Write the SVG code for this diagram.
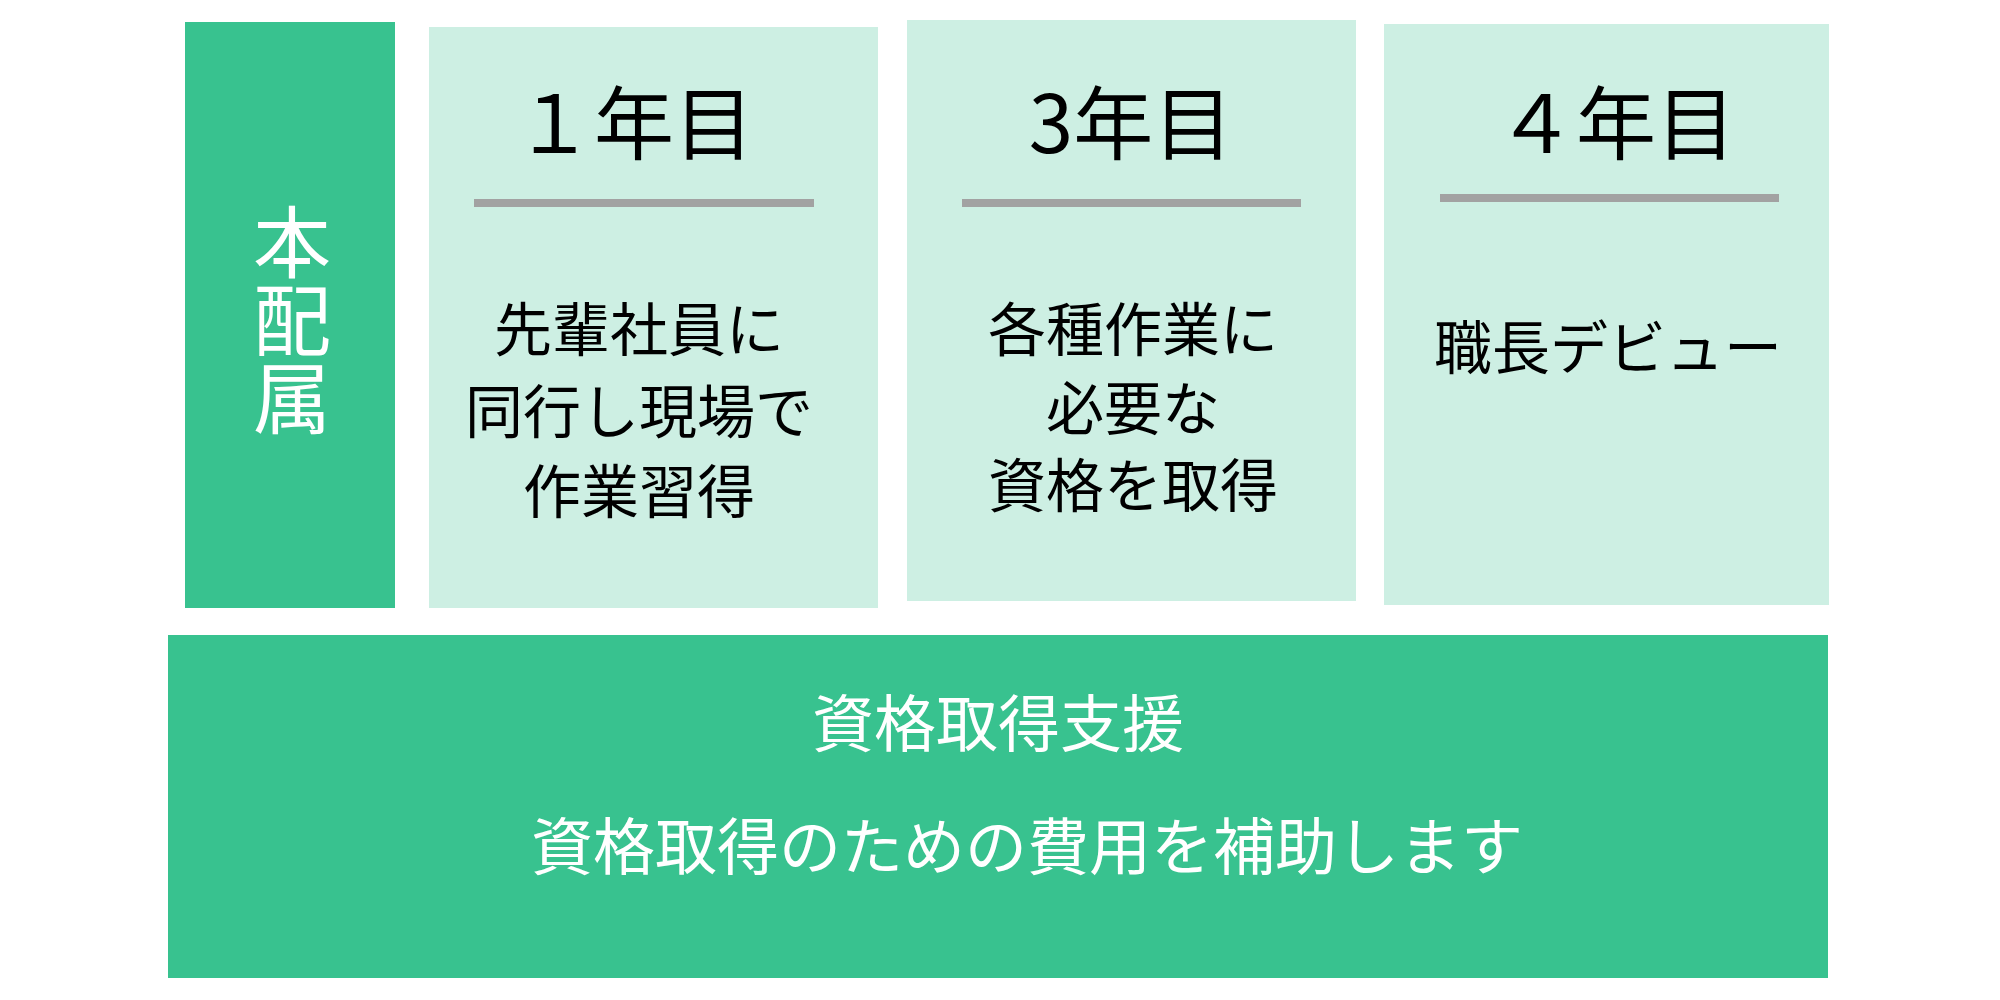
<svg xmlns="http://www.w3.org/2000/svg" width="2000" height="1000" viewBox="0 0 2000 1000">
<style>
.dark{fill:#38C28F}
.light{fill:#CDEFE3}
.rule{stroke:#A2A2A2;stroke-width:8}
text{font-family:"Noto Sans CJK JP","Noto Sans",sans-serif;text-anchor:middle}
.title{font-size:80px;fill:#000}
.body{font-size:58px;fill:#000}
.side{font-size:78px;fill:#fff;writing-mode:vertical-rl}
.foot{font-size:62px;fill:#fff}
</style>
<rect width="2000" height="1000" fill="#fff"/>
<g id="side">
<rect class="dark" x="185" y="22" width="210" height="586"/>
<text class="side" x="292" y="320">本配属</text>
</g>
<g id="year1">
<rect class="light" x="429" y="27" width="449" height="581"/>
<text class="title" x="634" y="153">１年目</text>
<line class="rule" x1="474" y1="203" x2="814" y2="203"/>
<text class="body" x="639" y="351">先輩社員に</text>
<text class="body" x="639" y="433">同行し現場で</text>
<text class="body" x="639" y="513">作業習得</text>
</g>
<g id="year3">
<rect class="light" x="907" y="20" width="449" height="581"/>
<text class="title" x="1131" y="153">3年目</text>
<line class="rule" x1="962" y1="203" x2="1301" y2="203"/>
<text class="body" x="1133" y="351">各種作業に</text>
<text class="body" x="1133" y="430">必要な</text>
<text class="body" x="1133" y="507">資格を取得</text>
</g>
<g id="year4">
<rect class="light" x="1384" y="24" width="445" height="581"/>
<text class="title" x="1616" y="153">４年目</text>
<line class="rule" x1="1440" y1="198" x2="1779" y2="198"/>
<text class="body" x="1608" y="369">職長デビュー</text>
</g>
<g id="support">
<rect class="dark" x="168" y="635" width="1660" height="343"/>
<text class="foot" x="998" y="747">資格取得支援</text>
<text class="foot" x="1027" y="870">資格取得のための費用を補助します</text>
</g>
<g id="connectors"></g>
</svg>
